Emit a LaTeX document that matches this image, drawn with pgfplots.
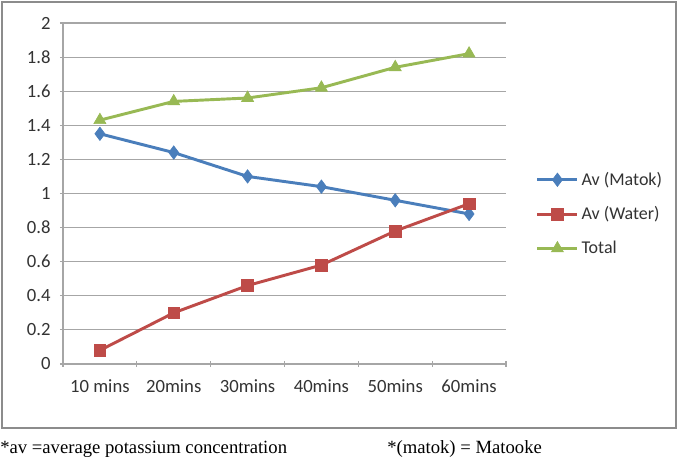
\documentclass[border=0pt]{standalone}
\usepackage{pgfplots}
\pgfplotsset{compat=1.18}
\usepackage{fontspec}
\setmainfont{Carlito}
\newfontfamily\notefont{Liberation Serif}

\definecolor{xlblue}{HTML}{4A7EBB}
\definecolor{xlred}{HTML}{BE4B48}
\definecolor{xlgreen}{HTML}{98B954}
\definecolor{xlgrid}{HTML}{A6A6A6}
\definecolor{xlframe}{HTML}{8C8C8C}

\begin{document}
\begin{tikzpicture}
\begin{axis}[
    scale only axis,
    width=332.25pt, height=255.75pt,
    clip=false,
    xmin=-0.5, xmax=5.5,
    ymin=0, ymax=2,
    ytick={0,0.2,...,2.01},
    xtick={0,...,5},
    xticklabels={10 mins,20mins,30mins,40mins,50mins,60mins},
    minor xtick={-0.5,0.5,...,5.6},
    major x tick style={draw=none},
    minor tick length=4pt,
    major tick length=4.5pt,
    tick align=outside,
    axis x line=bottom, axis y line=left,
    axis line style={-, xlgrid, line width=0.8pt},
    tick style={xlgrid, line width=0.8pt},
    ymajorgrids,
    grid style={xlgrid, line width=0.8pt},
    every tick label/.append style={font=\fontsize{14}{16}\selectfont, text=black!80},
    xticklabel style={yshift=-6pt},
    yticklabel style={xshift=-3.5pt},
    /pgf/number format/assume math mode=true,
    legend style={at={(1.058,0.44)}, anchor=west, draw=none, fill=none,
        font=\fontsize{13.5}{16}\selectfont, row sep=10.5pt,
        nodes={text=black!80}},
    legend cell align=left,
    legend image code/.code={
        \draw[#1, mark repeat=2, mark phase=2] plot coordinates {(0pt,0pt) (15pt,0pt) (30pt,0pt)};},
    every axis plot/.append style={line width=2.2pt},
]
\addplot[xlblue, mark=diamond*, mark size=5pt, mark options={solid, line width=0.5pt}]
    coordinates {(0,1.35) (1,1.24) (2,1.10) (3,1.04) (4,0.96) (5,0.88)};
\addlegendentry{Av (Matok)}
\addplot[xlred, mark=square*, mark size=4.4pt, mark options={solid, line width=0.5pt}]
    coordinates {(0,0.08) (1,0.30) (2,0.46) (3,0.58) (4,0.78) (5,0.94)};
\addlegendentry{Av (Water)}
\addplot[xlgreen, mark=triangle*, mark size=5.2pt, mark options={solid, line width=0.5pt}]
    coordinates {(0,1.43) (1,1.54) (2,1.56) (3,1.62) (4,1.74) (5,1.82)};
\addlegendentry{Total}
% outer chart frame, footnotes and picture extent
\draw[xlframe, line width=0.9pt] (rel axis cs:-0.1377,1.0616) rectangle (rel axis cs:1.3837,-0.1877);
\path (rel axis cs:-0.1422,-0.2757) rectangle (rel axis cs:1.3928,1.0674);
\node[anchor=west, inner sep=0pt, font=\notefont\fontsize{14}{16}\selectfont]
    at (rel axis cs:-0.1422,-0.2500) {*av =average potassium concentration};
\node[anchor=west, inner sep=0pt, font=\notefont\fontsize{14}{16}\selectfont]
    at (rel axis cs:0.7314,-0.2500) {*(matok) = Matooke};
\end{axis}
\end{tikzpicture}
\end{document}
